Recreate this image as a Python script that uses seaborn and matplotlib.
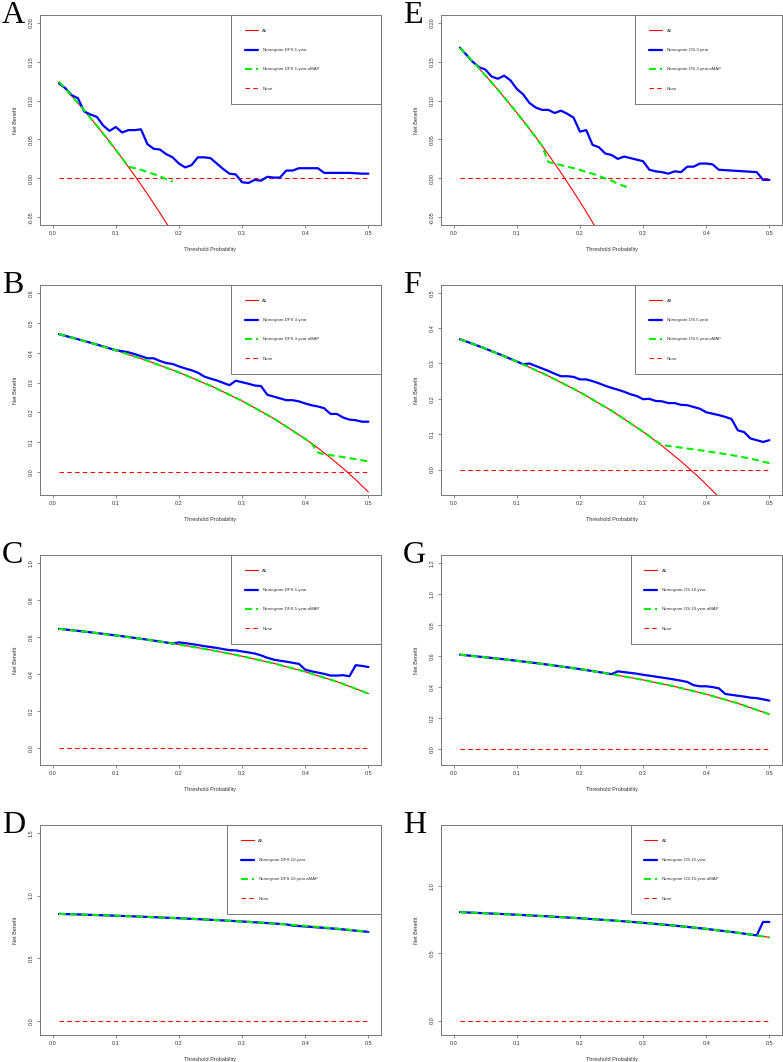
import numpy as np
import matplotlib
matplotlib.use("Agg")
import matplotlib.pyplot as plt
import seaborn as sns
from matplotlib.ticker import FormatStrFormatter

# -----------------------------
# Data
# -----------------------------
thresholds = np.round(np.arange(0.01, 0.505, 0.01), 2)
coarse_x = [0.01, 0.05, 0.10, 0.15, 0.20, 0.25, 0.30, 0.35, 0.40, 0.45, 0.50]
none_x = [0.01, 0.50]
none_y = [0.0, 0.0]

# A - DFS 1 year
a_all_x = [0.01, 0.03, 0.05, 0.07, 0.09, 0.11, 0.13, 0.15, 0.17, 0.19, 0.21]
a_all_y = [0.1242, 0.1062, 0.0874, 0.0677, 0.0473, 0.0258, 0.0034, -0.0200, -0.0446, -0.0704, -0.0974]
a_nom_y = [0.122, 0.116, 0.107, 0.103, 0.086, 0.082, 0.079, 0.068, 0.061, 0.066,
           0.059, 0.062, 0.062, 0.063, 0.044, 0.038, 0.037, 0.031, 0.027, 0.019,
           0.014, 0.017, 0.027, 0.027, 0.026, 0.019, 0.012, 0.006, 0.005, -0.005,
           -0.006, -0.002, -0.003, 0.002, 0.001, 0.001, 0.010, 0.010, 0.013, 0.013,
           0.013, 0.013, 0.007, 0.007, 0.007, 0.007, 0.007, 0.0065, 0.006, 0.006]
a_amap_x = [0.01, 0.03, 0.05, 0.07, 0.09, 0.11, 0.12, 0.13, 0.14, 0.15, 0.16, 0.17, 0.18, 0.19]
a_amap_y = [0.1242, 0.1062, 0.0874, 0.0677, 0.0473, 0.0258, 0.0150, 0.0130, 0.0110, 0.0080,
            0.0055, 0.0025, -0.0010, -0.0040]

# E - OS 3 year
e_all_x = [0.01, 0.03, 0.05, 0.07, 0.09, 0.11, 0.13, 0.15, 0.17, 0.19, 0.21, 0.23, 0.25]
e_all_y = [0.1677, 0.1505, 0.1326, 0.1140, 0.0945, 0.0742, 0.0529, 0.0306, 0.0072, -0.0173,
           -0.0430, -0.0701, -0.0987]
e_nom_y = [0.168, 0.159, 0.150, 0.143, 0.140, 0.131, 0.128, 0.132, 0.126, 0.115,
           0.108, 0.097, 0.091, 0.088, 0.088, 0.084, 0.087, 0.083, 0.078, 0.060,
           0.062, 0.043, 0.040, 0.032, 0.030, 0.025, 0.028, 0.026, 0.024, 0.022,
           0.011, 0.009, 0.008, 0.006, 0.009, 0.008, 0.015, 0.015, 0.019, 0.019,
           0.018, 0.011, 0.0105, 0.010, 0.0095, 0.009, 0.0085, 0.008, -0.002, -0.002]
e_amap_x = [0.01, 0.03, 0.05, 0.07, 0.09, 0.11, 0.13, 0.14, 0.15, 0.16, 0.17, 0.18, 0.19,
            0.20, 0.21, 0.22, 0.23, 0.24, 0.25, 0.26, 0.27, 0.28]
e_amap_y = [0.1677, 0.1505, 0.1326, 0.1140, 0.0945, 0.0742, 0.0529, 0.0419, 0.021, 0.019,
            0.017, 0.015, 0.013, 0.011, 0.008, 0.006, 0.003, 0.000, -0.003, -0.007, -0.010, -0.014]

# B - DFS 3 year
b_all_x = [0.01, 0.05, 0.10, 0.15, 0.20, 0.25, 0.30, 0.35, 0.40, 0.42, 0.44, 0.46, 0.48, 0.50]
b_all_y = [0.4616, 0.4389, 0.4078, 0.3729, 0.3338, 0.2893, 0.2386, 0.1800, 0.1117, 0.0810,
           0.0482, 0.0130, -0.0250, -0.0660]
b_nom_y = [0.4616, 0.4561, 0.4505, 0.4448, 0.4389, 0.4330, 0.4269, 0.4207, 0.4143, 0.4078,
           0.405, 0.401, 0.395, 0.388, 0.381, 0.381, 0.372, 0.365, 0.362, 0.354,
           0.347, 0.341, 0.333, 0.320, 0.313, 0.307, 0.299, 0.291, 0.306, 0.301,
           0.296, 0.290, 0.288, 0.259, 0.253, 0.247, 0.241, 0.241, 0.237, 0.230,
           0.224, 0.220, 0.214, 0.195, 0.195, 0.183, 0.176, 0.174, 0.169, 0.169]
b_amap_x = [0.01, 0.05, 0.10, 0.15, 0.20, 0.25, 0.30, 0.35, 0.40, 0.41, 0.42, 0.43, 0.44,
            0.45, 0.46, 0.47, 0.48, 0.49, 0.50]
b_amap_y = [0.4616, 0.4389, 0.4078, 0.3729, 0.3338, 0.2893, 0.2386, 0.1800, 0.1117, 0.0966,
            0.066, 0.060, 0.057, 0.054, 0.051, 0.047, 0.044, 0.040, 0.036]

# F - OS 5 year
f_all_x = [0.01, 0.05, 0.10, 0.15, 0.20, 0.25, 0.30, 0.33, 0.36, 0.39, 0.42, 0.45]
f_all_y = [0.3687, 0.3421, 0.3056, 0.2647, 0.2188, 0.1667, 0.1071, 0.0672, 0.0234, -0.0246,
           -0.0776, -0.1364]
f_nom_y = [0.3687, 0.3622, 0.3557, 0.3490, 0.3421, 0.3351, 0.3279, 0.3207, 0.3132, 0.3056,
           0.2978, 0.300, 0.293, 0.286, 0.279, 0.271, 0.264, 0.264, 0.262, 0.255,
           0.255, 0.250, 0.244, 0.237, 0.231, 0.226, 0.220, 0.213, 0.208, 0.199,
           0.200, 0.194, 0.193, 0.188, 0.188, 0.183, 0.182, 0.177, 0.172, 0.162,
           0.158, 0.154, 0.149, 0.143, 0.111, 0.106, 0.088, 0.083, 0.078, 0.083]
f_amap_x = [0.01, 0.05, 0.10, 0.15, 0.20, 0.25, 0.30, 0.31, 0.32, 0.33, 0.36, 0.40, 0.44, 0.47, 0.50]
f_amap_y = [0.3687, 0.3421, 0.3056, 0.2647, 0.2188, 0.1667, 0.1071, 0.0942, 0.0809, 0.069,
            0.062, 0.052, 0.041, 0.031, 0.018]

# C - DFS 5 year
c_all_y = [0.6434, 0.6284, 0.6078, 0.5847, 0.5588, 0.5293, 0.4957, 0.4569, 0.4117, 0.3582, 0.2940]
c_nom_y = [0.6434, 0.6398, 0.6361, 0.6323, 0.6284, 0.6245, 0.6204, 0.6163, 0.6121, 0.6078,
           0.6034, 0.5989, 0.5943, 0.5895, 0.5847, 0.5798, 0.5747, 0.5695, 0.5642, 0.570,
           0.566, 0.561, 0.556, 0.550, 0.545, 0.540, 0.534, 0.528, 0.527, 0.521,
           0.516, 0.510, 0.500, 0.487, 0.477, 0.471, 0.466, 0.460, 0.454, 0.423,
           0.414, 0.407, 0.400, 0.391, 0.391, 0.393, 0.387, 0.447, 0.443, 0.437]
c_amap_y = [0.6434, 0.6284, 0.6078, 0.5847, 0.5588, 0.5293, 0.4957, 0.4569, 0.4117, 0.3582, 0.2940]

# G - OS 10 year
g_all_y = [0.6091, 0.5926, 0.5700, 0.5447, 0.5163, 0.4840, 0.4471, 0.4046, 0.3550, 0.2964, 0.2260]
g_nom_y = [0.6091, 0.6051, 0.6010, 0.5969, 0.5926, 0.5883, 0.5839, 0.5794, 0.5747, 0.5700,
           0.5652, 0.5602, 0.5552, 0.5500, 0.5447, 0.5393, 0.5337, 0.5280, 0.5222, 0.5163,
           0.5101, 0.5039, 0.4974, 0.4908, 0.4840, 0.502, 0.497, 0.492, 0.487, 0.480,
           0.474, 0.468, 0.462, 0.456, 0.449, 0.442, 0.434, 0.413, 0.406, 0.406,
           0.401, 0.393, 0.357, 0.351, 0.345, 0.340, 0.333, 0.330, 0.322, 0.314]
g_amap_y = [0.6091, 0.5926, 0.5700, 0.5447, 0.5163, 0.4840, 0.4471, 0.4046, 0.3550, 0.2964, 0.2260]

# D - DFS 10 year
d_all_y = [0.8535, 0.8474, 0.8389, 0.8294, 0.8188, 0.8067, 0.7929, 0.7769, 0.7583, 0.7364, 0.7100]
d_nom_x = [0.01, 0.05, 0.10, 0.15, 0.20, 0.25, 0.30, 0.35, 0.37, 0.38, 0.40, 0.45, 0.50]
d_nom_y = [0.8535, 0.8474, 0.8389, 0.8294, 0.8188, 0.8067, 0.7929, 0.7769, 0.7700, 0.7600,
           0.7530, 0.7340, 0.7100]
d_amap_y = [0.8535, 0.8474, 0.8389, 0.8294, 0.8188, 0.8067, 0.7929, 0.7769, 0.7583, 0.7364, 0.7100]

# H - OS 15 year
h_all_y = [0.8081, 0.8000, 0.7889, 0.7765, 0.7625, 0.7467, 0.7286, 0.7077, 0.6833, 0.6545, 0.6200]
h_nom_x = [0.01, 0.05, 0.10, 0.15, 0.20, 0.25, 0.30, 0.35, 0.40, 0.45, 0.48, 0.49, 0.50]
h_nom_y = [0.8081, 0.8000, 0.7889, 0.7765, 0.7625, 0.7467, 0.7286, 0.7077, 0.6833, 0.6545,
           0.6346, 0.735, 0.735]
h_amap_y = [0.8081, 0.8000, 0.7889, 0.7765, 0.7625, 0.7467, 0.7286, 0.7077, 0.6833, 0.6545, 0.6200]

panels = [
    dict(letter="A", name="Nomogram.DFS.1.year", col=0, row=0,
         all_x=a_all_x, all_y=a_all_y, nom_x=thresholds, nom_y=a_nom_y,
         amap_x=a_amap_x, amap_y=a_amap_y,
         ylim=(-0.06, 0.21), yticks=[-0.05, 0.0, 0.05, 0.10, 0.15, 0.20], fmt="%.2f", leg_x=0.56),
    dict(letter="E", name="Nomogram.OS.3.year", col=1, row=0,
         all_x=e_all_x, all_y=e_all_y, nom_x=thresholds, nom_y=e_nom_y,
         amap_x=e_amap_x, amap_y=e_amap_y,
         ylim=(-0.06, 0.21), yticks=[-0.05, 0.0, 0.05, 0.10, 0.15, 0.20], fmt="%.2f", leg_x=0.57),
    dict(letter="B", name="Nomogram.DFS.3.year", col=0, row=1,
         all_x=b_all_x, all_y=b_all_y, nom_x=thresholds, nom_y=b_nom_y,
         amap_x=b_amap_x, amap_y=b_amap_y,
         ylim=(-0.076, 0.626), yticks=[0.0, 0.1, 0.2, 0.3, 0.4, 0.5, 0.6], fmt="%.1f", leg_x=0.56),
    dict(letter="F", name="Nomogram.OS.5.year", col=1, row=1,
         all_x=f_all_x, all_y=f_all_y, nom_x=thresholds, nom_y=f_nom_y,
         amap_x=f_amap_x, amap_y=f_amap_y,
         ylim=(-0.072, 0.522), yticks=[0.0, 0.1, 0.2, 0.3, 0.4, 0.5], fmt="%.1f", leg_x=0.57),
    dict(letter="C", name="Nomogram.DFS.5.year", col=0, row=2,
         all_x=coarse_x, all_y=c_all_y, nom_x=thresholds, nom_y=c_nom_y,
         amap_x=coarse_x, amap_y=c_amap_y,
         ylim=(-0.092, 1.042), yticks=[0.0, 0.2, 0.4, 0.6, 0.8, 1.0], fmt="%.1f", leg_x=0.56),
    dict(letter="G", name="Nomogram.OS.10.year", col=1, row=2,
         all_x=coarse_x, all_y=g_all_y, nom_x=thresholds, nom_y=g_nom_y,
         amap_x=coarse_x, amap_y=g_amap_y,
         ylim=(-0.1, 1.25), yticks=[0.0, 0.2, 0.4, 0.6, 0.8, 1.0, 1.2], fmt="%.1f", leg_x=0.556),
    dict(letter="D", name="Nomogram.DFS.10.year", col=0, row=3,
         all_x=coarse_x, all_y=d_all_y, nom_x=d_nom_x, nom_y=d_nom_y,
         amap_x=coarse_x, amap_y=d_amap_y,
         ylim=(-0.112, 1.562), yticks=[0.0, 0.5, 1.0, 1.5], fmt="%.1f", leg_x=0.548),
    dict(letter="H", name="Nomogram.OS.15.year", col=1, row=3,
         all_x=coarse_x, all_y=h_all_y, nom_x=h_nom_x, nom_y=h_nom_y,
         amap_x=coarse_x, amap_y=h_amap_y,
         ylim=(-0.108, 1.458), yticks=[0.0, 0.5, 1.0], fmt="%.1f", leg_x=0.556),
]

# -----------------------------
# Style
# -----------------------------
sns.set_style("white")
plt.rcParams["font.family"] = ["Liberation Sans", "DejaVu Sans"]
plt.rcParams["axes.unicode_minus"] = False

W, H = 783, 1062
fig = plt.figure(figsize=(W / 100, H / 100), dpi=100)

col_left = [40, 441]
ax_w = 341
row_top = [15, 285, 555, 825]
ax_h = 210
frame_col = "#777777"
text_col = "#333333"

for p in panels:
    left = col_left[p["col"]]
    top = row_top[p["row"]]
    ax = fig.add_axes([left / W, 1 - (top + ax_h) / H, ax_w / W, ax_h / H])

    sns.lineplot(x=p["all_x"], y=p["all_y"], ax=ax, color="#ff0000", lw=0.8,
                 errorbar=None, label="All")
    sns.lineplot(x=none_x, y=none_y, ax=ax, color="#ff0000", lw=0.8,
                 linestyle=(0, (4, 3)), errorbar=None, label="None")
    sns.lineplot(x=p["nom_x"], y=p["nom_y"], ax=ax, color="#0000ff", lw=1.6,
                 errorbar=None, label=p["name"])
    sns.lineplot(x=p["amap_x"], y=p["amap_y"], ax=ax, color="#00ee00", lw=1.5,
                 linestyle=(0, (3.3, 2)), errorbar=None, label=p["name"] + ".aMAP")

    ax.set_xlim(-0.02, 0.52)
    ax.set_ylim(*p["ylim"])
    ax.set_xticks([0.0, 0.1, 0.2, 0.3, 0.4, 0.5])
    ax.set_yticks(p["yticks"])
    ax.xaxis.set_major_formatter(FormatStrFormatter("%.1f"))
    ax.yaxis.set_major_formatter(FormatStrFormatter(p["fmt"]))
    ax.tick_params(axis="both", which="major", direction="out", length=2.5, width=0.6,
                   color=frame_col, labelsize=4, labelcolor=text_col, pad=2,
                   bottom=True, left=True)
    for lab in ax.get_yticklabels():
        lab.set_rotation(90)
        lab.set_va("center")
    for s in ax.spines.values():
        s.set_color(frame_col)
        s.set_linewidth(0.7)

    ax.set_xlabel("Threshold Probability", fontsize=4, color=text_col, labelpad=8)
    ax.set_ylabel("Net Benefit", fontsize=4, color=text_col, labelpad=8)

    handles, labels = ax.get_legend_handles_labels()
    order = [0, 2, 3, 1]
    leg = ax.legend([handles[i] for i in order], [labels[i] for i in order],
                    loc="upper left", bbox_to_anchor=(p["leg_x"], 0, 1 - p["leg_x"], 1),
                    mode="expand", borderaxespad=0, fontsize=3.2, borderpad=3.1,
                    labelspacing=3.4, handlelength=2.9, handletextpad=1.05,
                    fancybox=False, framealpha=1, edgecolor=frame_col)
    leg.get_frame().set_linewidth(0.7)
    for t in leg.get_texts():
        t.set_color(text_col)

    fig.text((2 if p["col"] == 0 else 403) / W, 1 - (top + 8) / H, p["letter"],
             fontsize=23, family=["Liberation Serif", "DejaVu Serif"],
             va="baseline", ha="left", color="black")

fig.savefig("out.png", dpi=100)
